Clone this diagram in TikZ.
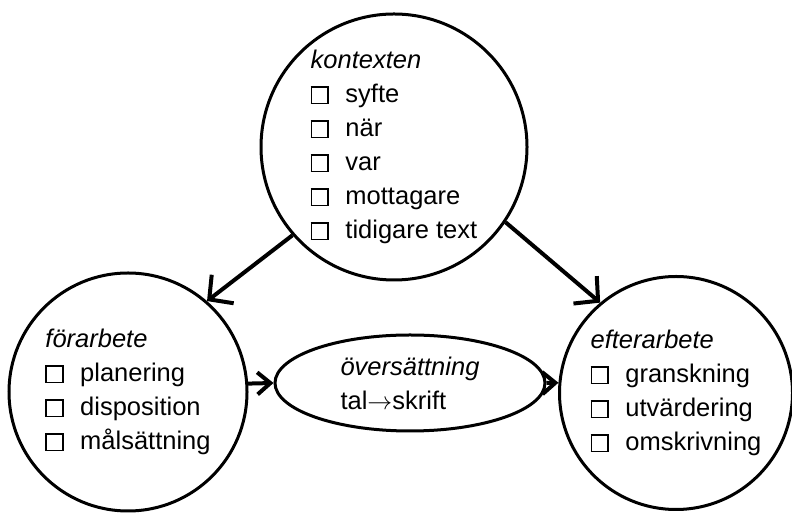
\documentclass[tikz,border=0pt]{standalone}
\usepackage{fontspec}
\setmainfont{Liberation Sans}
\usetikzlibrary{arrows.meta,shapes.geometric}

% empty check box in front of each item
\newcommand{\ruta}{{\fboxsep=0pt\fboxrule=1.6pt\fbox{\rule{0pt}{15pt}\rule{15pt}{0pt}}}\hspace{0.65em}}

\tikzset{
  cirkel/.style={draw, circle, line width=3pt, inner sep=0pt, align=left},
  oval/.style={draw, ellipse, line width=3pt, inner sep=0pt, align=left},
  pil/.style={line width=4pt, -{Straight Barb[length=17pt, width=36pt]}},
  kortpil/.style={line width=4pt, -{Straight Barb[length=13pt, width=22pt]}},
}

\begin{document}
\begin{tikzpicture}[x=1pt, y=1pt, font=\fontsize{25.5}{34}\selectfont]
            \def\Xk{394};
            \def\Yk{366};
            \def\Xf{128};
            \def\Xe{676};
            \def\Yf{121}; % lower row
            \def\Xo{410};
            \def\Yo{130}; % oval

            \useasboundingbox (0,0) rectangle (792,513);

            % top circle
            \node[cirkel, minimum size=266pt] (kontext) at (\Xk, \Yk)
                {\textit{kontexten}\\ \ruta syfte\\ \ruta när\\ \ruta var\\
                 \ruta mottagare\\ \ruta tidigare text};

            % left circle
            \node[cirkel, minimum size=238pt] (forarbete) at (\Xf, \Yf)
                {\textit{förarbete}\\ \ruta planering\\ \ruta disposition\\
                 \ruta målsättning};

            % right circle
            \node[cirkel, minimum size=233pt] (efterarbete) at (\Xe, \Yf - 1)
                {\textit{efterarbete}\\ \ruta granskning\\ \ruta utvärdering\\
                 \ruta omskrivning};

            % oval in the middle
            \node[oval, minimum width=270pt, minimum height=96pt] (oversattning)
                at (\Xo, \Yo) {\textit{översättning}\\ tal$\rightarrow$skrift};

            % from the context down to both sides
            \draw[pil] (kontext.221) -- (forarbete.49);
            \draw[pil] (kontext.326) -- (efterarbete.130);

            % along the lower row
            \draw[kortpil] (forarbete.4) -- (oversattning.west);
            \draw[kortpil] (oversattning.east) -- (efterarbete.175);

\end{tikzpicture}
\end{document}
